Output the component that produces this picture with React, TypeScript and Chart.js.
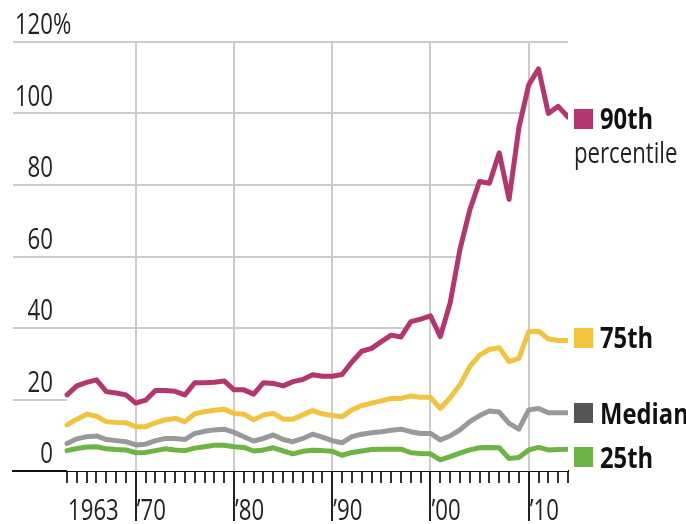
import React, { useEffect, useRef } from 'react';
import { Chart, registerables } from 'chart.js';

Chart.register(...registerables);

const years = [
  1963, 1964, 1965, 1966, 1967, 1968, 1969, 1970, 1971, 1972,
  1973, 1974, 1975, 1976, 1977, 1978, 1979, 1980, 1981, 1982,
  1983, 1984, 1985, 1986, 1987, 1988, 1989, 1990, 1991, 1992,
  1993, 1994, 1995, 1996, 1997, 1998, 1999, 2000, 2001, 2002,
  2003, 2004, 2005, 2006, 2007, 2008, 2009, 2010, 2011, 2012,
  2013, 2014,
];

const p90 = [
  21.3, 23.8, 24.8, 25.5, 22.2, 21.8, 21.3, 19, 19.8, 22.5,
  22.5, 22.3, 21.3, 24.7, 24.7, 24.8, 25.2, 22.7, 22.7, 21.5,
  24.7, 24.5, 23.8, 25, 25.6, 26.9, 26.5, 26.5, 27, 30.5,
  33.5, 34.3, 36.2, 38, 37.5, 41.8, 42.5, 43.4, 37.6, 47,
  62, 73, 81, 80.5, 89, 76, 96, 108, 112.5, 100,
  102, 99,
];

const p75 = [
  12.9, 14.5, 15.9, 15.3, 13.8, 13.6, 13.5, 12.4, 12.4, 13.5,
  14.3, 14.7, 13.8, 16, 16.6, 17, 17.3, 16.1, 15.9, 14.3,
  15.7, 16.1, 14.5, 14.5, 15.7, 16.9, 16, 15.5, 15.2, 17.1,
  18.3, 19, 19.6, 20.3, 20.3, 21, 20.6, 20.6, 17.5, 20.5,
  24.1, 29.2, 32.4, 34, 34.5, 30.6, 31.5, 39, 39.1, 36.9,
  36.5, 36.5,
];

const median = [
  7.7, 9, 9.6, 9.8, 8.8, 8.5, 8.2, 7.3, 7.5, 8.5,
  9.1, 9.1, 8.8, 10.5, 11.1, 11.5, 11.7, 10.8, 9.6, 8.4,
  9.1, 10.1, 8.8, 8.2, 9.1, 10.3, 9.5, 8.5, 7.9, 9.6,
  10.3, 10.7, 11, 11.4, 11.7, 11, 10.5, 10.5, 8.7, 9.8,
  11.5, 13.8, 15.5, 16.8, 16.5, 13.3, 11.7, 17.1, 17.5, 16.3,
  16.3, 16.3,
];

const p25 = [
  5.7, 6.3, 6.7, 6.8, 6.2, 6, 5.9, 5.1, 5.2, 5.7,
  6.2, 5.9, 5.7, 6.4, 6.8, 7.2, 7.2, 6.8, 6.6, 5.6,
  5.9, 6.5, 5.6, 4.8, 5.5, 5.8, 5.7, 5.5, 4.4, 5.2,
  5.6, 6, 6.1, 6.1, 6.1, 5.1, 4.9, 4.8, 3.1, 4,
  5, 5.9, 6.5, 6.6, 6.5, 3.5, 3.8, 5.9, 6.6, 5.9,
  6, 6.1,
];

const seriesNames = ['90th', '75th', 'Median', '25th'];
const seriesSubNames = ['percentile', '', '', ''];
const seriesLabelAt = [98.6, 37.3, 16.2, 3.8];

const xTickYears = [1963, 1970, 1980, 1990, 2000, 2010];
const xTickLabels = ['1963', '\u201970', '\u201980', '\u201990', '\u201900', '\u201910'];
const decadeYears = [1970, 1980, 1990, 2000, 2010];

const yTickValues = [0, 20, 40, 60, 80, 100, 120];
const yTickLabels = ['0', '20', '40', '60', '80', '100', '120%'];

const lineColors = ['#b5366f', '#f1c33f', '#999999', '#6cb443'];
const swatchColors = ['#b5366f', '#f1c33f', '#555555', '#6cb443'];

const FONT = "'Open Sans', 'Noto Sans', sans-serif";
const REG_SX = 0.74;
const BOLD_SX = 0.82;

function narrowText(ctx: CanvasRenderingContext2D, text: string, x: number, y: number, sx: number) {
  ctx.save();
  ctx.textAlign = 'left';
  ctx.textBaseline = 'alphabetic';
  ctx.translate(x, y);
  ctx.scale(sx, 1);
  ctx.fillText(text, 0, 0);
  ctx.restore();
}

export default function App() {
  const ref = useRef<HTMLCanvasElement | null>(null);

  useEffect(() => {
    if (!ref.current) return;
    const toPts = (arr: number[]) => arr.map((v, i) => ({ x: years[i], y: v }));

    const decorPlugin = {
      id: 'decor',
      beforeDatasetsDraw(chart: any) {
        const { ctx, chartArea, scales } = chart;
        ctx.save();
        ctx.fillStyle = '#cccccc';
        decadeYears.forEach((d) => {
          const x = Math.round(scales.x.getPixelForValue(d));
          ctx.fillRect(x - 1, chartArea.top, 2, chartArea.bottom - chartArea.top);
        });
        ctx.restore();
      },
      afterDraw(chart: any) {
        const { ctx, chartArea, scales } = chart;
        const bottom = Math.round(chartArea.bottom);
        ctx.save();
        // x labels
        ctx.fillStyle = '#222222';
        ctx.font = `30px ${FONT}`;
        xTickYears.forEach((yr, i) => {
          const x = scales.x.getPixelForValue(yr) + 1;
          narrowText(ctx, xTickLabels[i], x, 520, REG_SX);
        });
        // y labels
        yTickValues.forEach((v, i) => {
          const lab = yTickLabels[i];
          const num = lab.replace('%', '');
          const w = ctx.measureText(num).width * REG_SX;
          const y = scales.y.getPixelForValue(v) - 8;
          narrowText(ctx, lab, 53 - w, y, REG_SX);
        });
        // series labels
        seriesNames.forEach((name, i) => {
          const cy = scales.y.getPixelForValue(seriesLabelAt[i]);
          ctx.fillStyle = swatchColors[i];
          ctx.fillRect(574, Math.round(cy - 10), 19, 20);
          ctx.fillStyle = '#111111';
          ctx.font = `bold 29px ${FONT}`;
          narrowText(ctx, name, 600, cy + 10.5, BOLD_SX);
          if (seriesSubNames[i]) {
            ctx.fillStyle = '#222222';
            ctx.font = `30px ${FONT}`;
            narrowText(ctx, seriesSubNames[i], 574, cy + 44, REG_SX);
          }
        });
        // yearly ticks (drawn last)
        ctx.fillStyle = '#333333';
        for (let i = 0; i < years.length; i++) {
          const x = Math.round(scales.x.getPixelForValue(years[i]));
          ctx.fillRect(x - 1, bottom + 1, 2, 11);
        }
        // long decade ticks
        ctx.fillStyle = '#222222';
        decadeYears.forEach((d) => {
          const x = Math.round(scales.x.getPixelForValue(d));
          ctx.fillRect(x - 1, bottom, 2, 521 - bottom);
        });
        ctx.restore();
      },
    };

    const lineBase = {
      fill: false,
      borderWidth: 5,
      pointRadius: 0,
      tension: 0,
      borderJoinStyle: 'round',
      borderCapStyle: 'round',
    };

    const chart = new Chart(ref.current, {
      type: 'line',
      data: {
        datasets: [
          { ...lineBase, label: seriesNames[0], data: toPts(p90), borderColor: lineColors[0], backgroundColor: '#ffffff', fill: 'origin' },
          { ...lineBase, label: seriesNames[1], data: toPts(p75), borderColor: lineColors[1] },
          { ...lineBase, label: seriesNames[2], data: toPts(median), borderColor: lineColors[2] },
          { ...lineBase, label: seriesNames[3], data: toPts(p25), borderColor: lineColors[3] },
        ],
      },
      options: {
        animation: false,
        responsive: true,
        maintainAspectRatio: false,
        layout: { padding: { top: 42, right: 118, left: 13, bottom: 0 }, autoPadding: false },
        plugins: {
          legend: { display: false },
          tooltip: { enabled: false },
          filler: { drawTime: 'beforeDatasetsDraw' },
        },
        scales: {
          x: {
            type: 'linear',
            min: 1957.5,
            max: 2014,
            z: 1,
            afterBuildTicks: (scale: any) => {
              scale.ticks = years.map((y) => ({ value: y }));
            },
            afterFit: (scale: any) => {
              scale.height = 53;
            },
            grid: { drawOnChartArea: false, drawTicks: false },
            border: { display: true, color: '#111111', width: 2 },
            ticks: { display: false },
          },
          y: {
            min: 0,
            max: 120,
            afterBuildTicks: (scale: any) => {
              scale.ticks = yTickValues.map((v) => ({ value: v }));
            },
            afterFit: (scale: any) => {
              scale.width = 0;
            },
            grid: {
              drawTicks: false,
              color: (c: any) => (c.tick && c.tick.value === 0 ? 'rgba(0,0,0,0)' : '#cccccc'),
              lineWidth: 2,
            },
            border: { display: false },
            ticks: { display: false },
          },
        },
      },
      plugins: [decorPlugin],
    } as any);

    return () => chart.destroy();
  }, []);

  return (
    <div style={{ position: 'absolute', left: 0, top: 0, width: 686, height: 524, background: '#ffffff' }}>
      <canvas ref={ref} />
    </div>
  );
}
